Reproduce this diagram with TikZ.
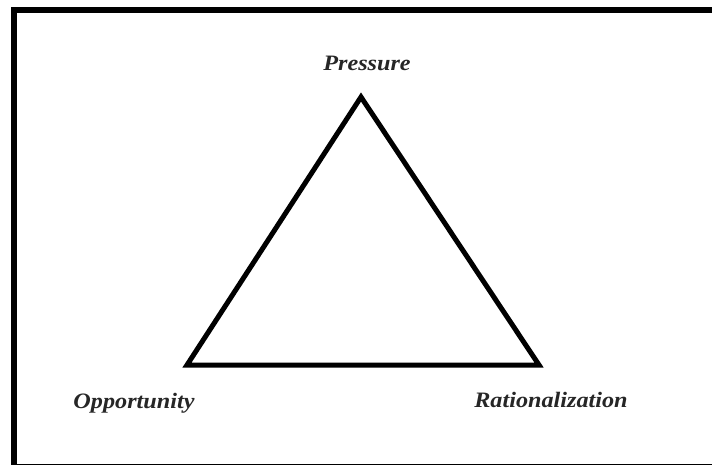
\documentclass[tikz,border=0pt]{standalone}
\usepackage{fontspec}
\setmainfont{Liberation Serif}
\begin{document}
\begin{tikzpicture}[x=1pt,y=-1pt,
  lbl/.style={font=\fontsize{22}{24}\selectfont\bfseries\itshape, text=black!85, inner sep=0pt, anchor=base, xscale=1.1},
  edge/.style={line width=5pt, line join=miter}]
\useasboundingbox (0,0) rectangle (712,464);
\fill[white] (0,0) rectangle (712,464);
\draw[line width=6pt] (14,10) rectangle (717,467);
\coordinate (P) at (361,97);
\coordinate (O) at (187,365);
\coordinate (R) at (539,365);
\draw[edge] (P) -- (O) -- (R) -- cycle;
\node[lbl] (tp) at (367,70) {Pressure};
\node[lbl] (to) at (134,408) {Opportunity};
\node[lbl] (tr) at (551,407) {Rationalization};
\end{tikzpicture}
\end{document}
